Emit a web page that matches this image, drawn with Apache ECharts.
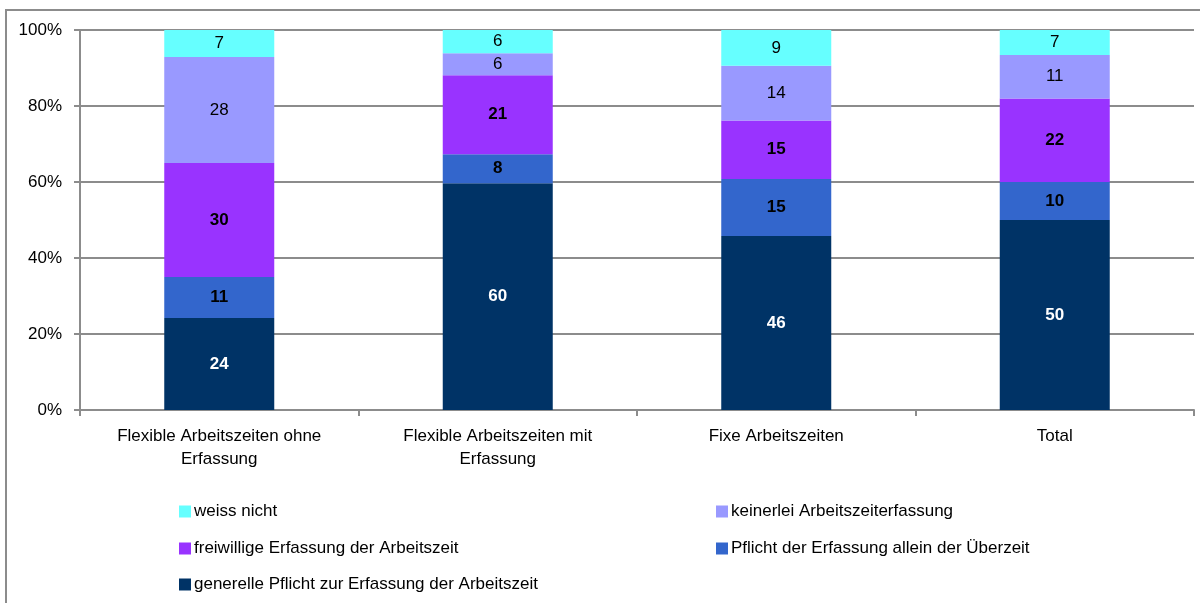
<!DOCTYPE html>
<html>
<head>
<meta charset="utf-8">
<script src="https://cdn.jsdelivr.net/npm/echarts@6/dist/echarts.min.js"></script>
<style>
html,body{margin:0;padding:0;background:#fff;}
#chart{width:1200px;height:603px;}
</style>
</head>
<body>
<div id="chart"></div>
<script>
var categories = ["Flexible Arbeitszeiten ohne\nErfassung", "Flexible Arbeitszeiten mit\nErfassung", "Fixe Arbeitszeiten", "Total"];
var seriesNames = ["generelle Pflicht zur Erfassung der Arbeitszeit", "Pflicht der Erfassung allein der Überzeit", "freiwillige Erfassung der Arbeitszeit", "keinerlei Arbeitszeiterfassung", "weiss nicht"];
var generelle = [24.2, 59.7, 45.8, 50.0];
var ueberzeit = [10.8, 7.6, 15.0, 10.0];
var freiwillig = [30.0, 20.8, 15.4, 22.0];
var keinerlei = [27.9, 5.8, 14.4, 11.4];
var weissNicht = [7.1, 6.1, 9.4, 6.6];
var yTicks = [0, 20, 40, 60, 80, 100];

var colors = ["#003366", "#3366CC", "#9933FF", "#9999FF", "#66FFFF"];
var values = [generelle, ueberzeit, freiwillig, keinerlei, weissNicht];
var labelColors = ["#ffffff", "#000000", "#000000", "#000000", "#000000"];
var labelWeights = ["bold", "bold", "bold", "normal", "normal"];
var FONT = '"Liberation Sans", Arial, sans-serif';
var FS = 17;

var series = seriesNames.map(function (n, i) {
  return {
    name: n, type: "bar", stack: "s", data: values[i],
    barWidth: 110,
    itemStyle: { color: colors[i] },
    label: {
      show: true, position: "inside",
      formatter: function (p) { return Math.round(p.value); },
      color: labelColors[i], fontWeight: labelWeights[i],
      fontSize: FS, fontFamily: FONT
    }
  };
});

var legendPos = [
  { name: seriesNames[4], left: 179, top: 503 },
  { name: seriesNames[3], left: 716, top: 503 },
  { name: seriesNames[2], left: 179, top: 540 },
  { name: seriesNames[1], left: 716, top: 540 },
  { name: seriesNames[0], left: 179, top: 576 }
];
var legends = legendPos.map(function (l) {
  return {
    data: [l.name], left: l.left, top: l.top, itemWidth: 12, itemHeight: 12,
    itemGap: 4, padding: 0, selectedMode: false,
    icon: "rect",
    textStyle: { fontSize: FS, fontFamily: FONT, color: "#000", padding: [0, 0, 0, -2] }
  };
});

var chart = echarts.init(document.getElementById("chart"), null, { renderer: "canvas" });
chart.setOption({
  animation: false,
  color: colors,
  legend: legends,
  graphic: [{
    type: "rect", silent: true, z: -1,
    shape: { x: 6, y: 10, width: 1400, height: 800 },
    style: { fill: "none", stroke: "#8c8c8c", lineWidth: 2 }
  }],
  grid: { left: 80, right: 6, top: 30, bottom: 193, containLabel: false },
  xAxis: {
    type: "category", data: categories,
    axisLine: { lineStyle: { color: "#8c8c8c", width: 2 } },
    axisTick: { show: true, length: 6, alignWithLabel: false, lineStyle: { color: "#8c8c8c", width: 2 } },
    axisLabel: { fontSize: FS, fontFamily: FONT, color: "#000", lineHeight: 23, margin: 15, interval: 0 }
  },
  yAxis: {
    type: "value", min: 0, max: 100, interval: 20,
    axisLine: { show: true, lineStyle: { color: "#8c8c8c", width: 2 } },
    axisTick: { show: true, length: 6, lineStyle: { color: "#8c8c8c", width: 2 } },
    splitLine: { show: true, lineStyle: { color: "#8c8c8c", width: 2 } },
    axisLabel: {
      fontSize: FS, fontFamily: FONT, color: "#000", margin: 18,
      formatter: function (v) { return yTicks.indexOf(v) >= 0 ? v + "%" : ""; }
    }
  },
  series: series
});
</script>
</body>
</html>
